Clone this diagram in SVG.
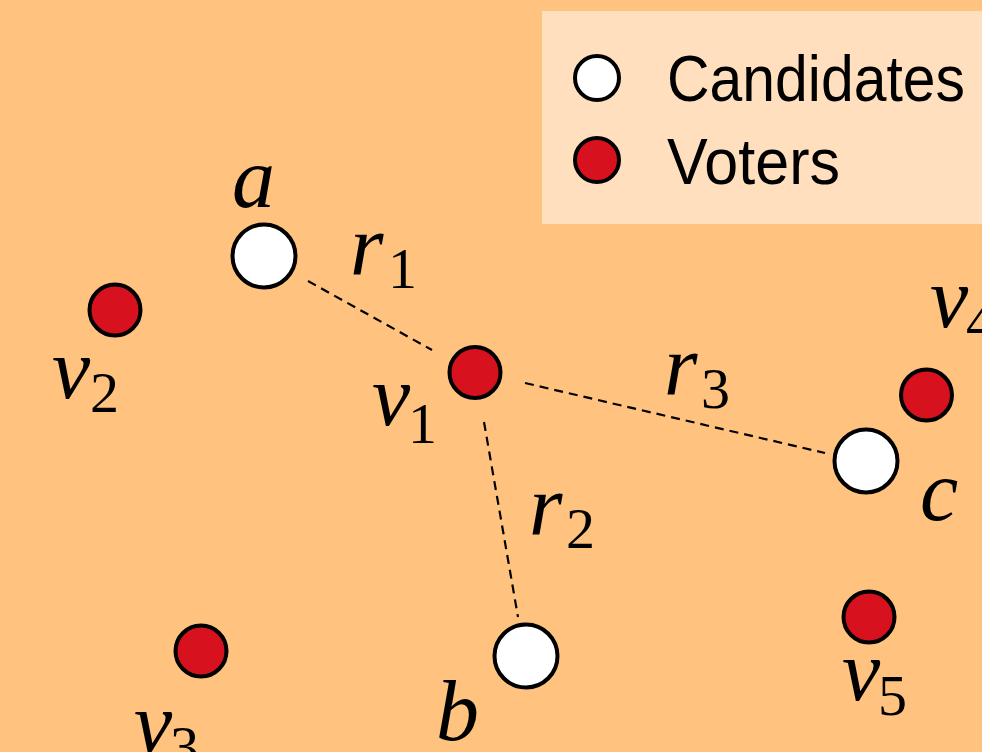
<svg xmlns="http://www.w3.org/2000/svg" width="982" height="752" viewBox="0 0 982 752">
<style>
.cand{fill:#ffffff;stroke:#000;stroke-width:4}
.voter{fill:#d7111e;stroke:#000;stroke-width:4}
.edge{stroke:#000;stroke-width:2.2;stroke-dasharray:9 6;fill:none}
.m{font-family:"Liberation Serif","DejaVu Serif",serif;font-style:italic;font-size:86px;fill:#000}
.s{font-family:"Liberation Serif","DejaVu Serif",serif;font-size:58px;fill:#000}
.leg{font-family:"Liberation Sans","DejaVu Sans",sans-serif;font-size:64px;fill:#000}
</style>
<rect x="0" y="0" width="982" height="752" fill="#ffc37f"/>
<g id="legend">
<rect x="542" y="11" width="445" height="213" fill="#ffdfbd"/>
<circle class="cand" cx="597" cy="78" r="22"/>
<circle class="voter" cx="597" cy="160" r="22"/>
<text class="leg" x="667" y="101" textLength="298" lengthAdjust="spacingAndGlyphs">Candidates</text>
<text class="leg" x="667" y="184" textLength="173" lengthAdjust="spacingAndGlyphs">Voters</text>
</g>
<g id="connectors">
<line class="edge" x1="308" y1="281" x2="432" y2="350"/>
<text class="m" x="350" y="275">r</text><text class="s" x="388" y="288">1</text>
<line class="edge" x1="525" y1="383" x2="825" y2="453"/>
<text class="m" x="664" y="395">r</text><text class="s" x="701" y="408">3</text>
<line class="edge" x1="484" y1="422" x2="518" y2="617"/>
<text class="m" x="529" y="535">r</text><text class="s" x="566" y="548">2</text>
</g>
<g id="node-a">
<circle class="cand" cx="264" cy="256" r="31.5"/>
<text class="m" x="232" y="207">a</text>
</g>
<g id="node-b">
<circle class="cand" cx="526" cy="656" r="31.5"/>
<text class="m" x="436" y="740">b</text>
</g>
<g id="node-c">
<circle class="cand" cx="866" cy="461" r="31.5"/>
<text class="m" x="920" y="520">c</text>
</g>
<g id="node-v1">
<circle class="voter" cx="475" cy="372.5" r="25.5"/>
<text class="m" x="372" y="425">v</text><text class="s" x="408" y="443">1</text>
</g>
<g id="node-v2">
<circle class="voter" cx="115" cy="310" r="25.5"/>
<text class="m" x="52" y="398">v</text><text class="s" x="90" y="412">2</text>
</g>
<g id="node-v3">
<circle class="voter" cx="201" cy="651" r="25.5"/>
<text class="m" x="134" y="752">v</text><text class="s" x="170" y="766">3</text>
</g>
<g id="node-v4">
<circle class="voter" cx="926.5" cy="395" r="25.5"/>
<text class="m" x="930" y="327">v</text><text class="s" x="966" y="341">4</text>
</g>
<g id="node-v5">
<circle class="voter" cx="869" cy="617" r="25.5"/>
<text class="m" x="842" y="700">v</text><text class="s" x="878" y="715">5</text>
</g>
</svg>
